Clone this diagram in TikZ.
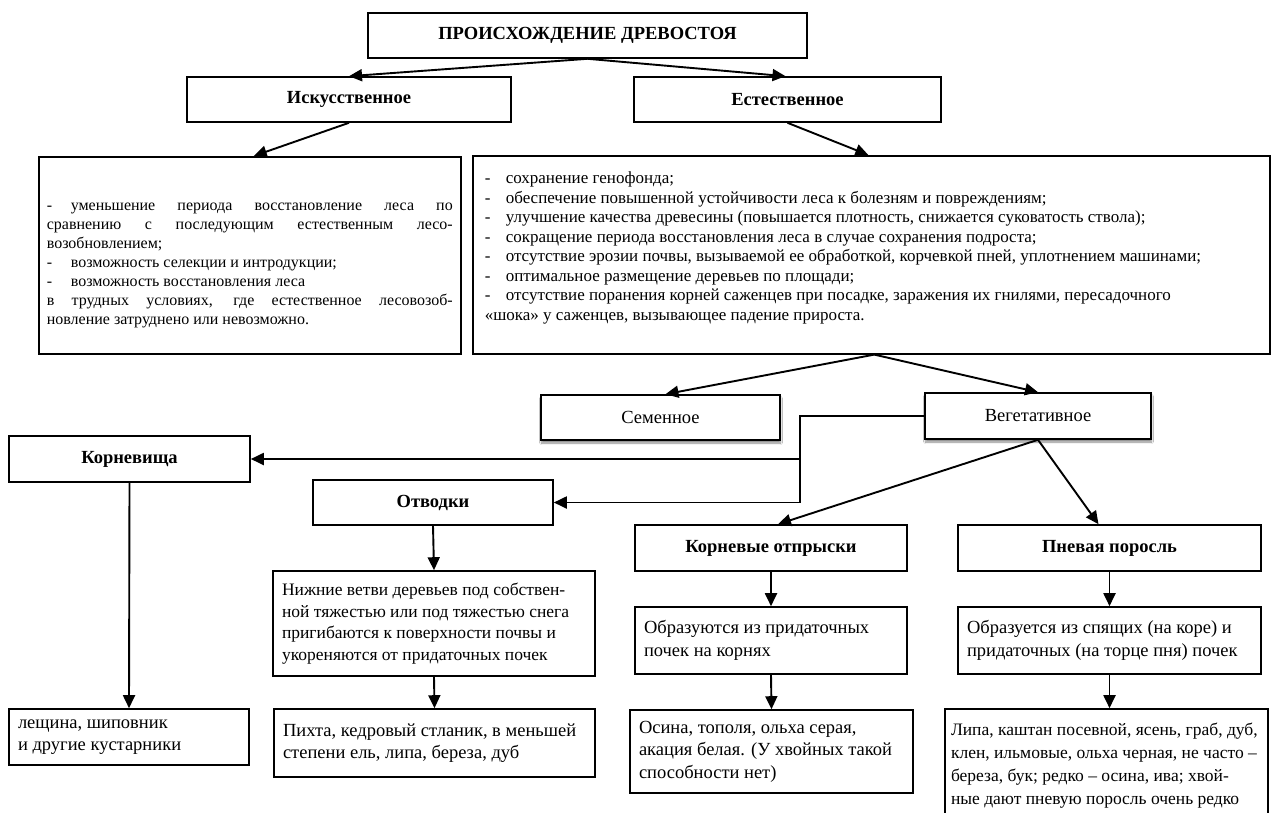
\documentclass[tikz,border=0pt]{standalone}
\usepackage{fontspec}
\setmainfont{Liberation Serif}
\usetikzlibrary{arrows.meta,shadows,shadows.blur}

\tikzset{
  box/.style={draw,line width=1.6pt,fill=white,inner sep=0pt,
    drop shadow={shadow xshift=1.4pt,shadow yshift=-1.4pt,fill=black!45,opacity=1}},
  headbox/.style={box,font=\fontsize{18.5}{22}\selectfont\bfseries},
  softbox/.style={draw,line width=1.6pt,fill=white,inner sep=0pt,
    blur shadow={shadow xshift=0.5pt,shadow yshift=-3pt,shadow blur steps=6,shadow opacity=45},
    font=\fontsize{18.5}{22}\selectfont},
  txtbox/.style={box,align=left,font=\fontsize{18.5}{22.5}\selectfont},
  arr/.style={-{Triangle[length=13pt,width=12pt]},line width=1.9pt},
  link/.style={line width=1.9pt}
}
% dash item and justified line
\newcommand\dashitem[2][24pt]{\makebox[#1][l]{-}#2}
\newcommand\fullline[1]{\makebox[\linewidth][s]{#1}}

\begin{document}
\begin{tikzpicture}[x=1pt,y=-1pt]
  \clip (0,0) rectangle (1271,812);
  \fill[white] (0,0) rectangle (1271,812);

  % top level
  \node[headbox,minimum width=439pt,minimum height=45pt] (origin) at (587.5,35.5)
    {ПРОИСХОЖДЕНИЕ ДРЕВОСТОЯ};
  \node[headbox,minimum width=324pt,minimum height=45pt] (artif) at (349,99.5) {Искусственное};
  \node[headbox,minimum width=307pt,minimum height=45pt] (natur) at (787.5,99.5) {Естественное};

  % advantages
  \node[box,anchor=north west,inner xsep=8pt] (artifpro) at (38,156)
    {\parbox[c][197pt][t]{406pt}{\fontsize{16}{19}\selectfont\vspace*{46pt}
      \fullline{\dashitem{уменьшение периода восстановление леса по}}\\
      \fullline{сравнению с последующим естественным лесо-}\\
      возобновлением;\\
      \dashitem{возможность селекции и интродукции;}\\
      \dashitem{возможность восстановления леса}\\
      \fullline{в трудных условиях, где естественное лесовозоб-}\\
      новление затруднено или невозможно.\par}};
  \node[box,anchor=north west,inner xsep=12pt] (naturpro) at (472,155)
    {\parbox[c][198pt][t]{773pt}{\fontsize{17}{19.5}\selectfont\vspace*{16pt}
      \dashitem[21pt]{сохранение генофонда;}\\
      \dashitem[21pt]{обеспечение повышенной устойчивости леса к болезням и повреждениям;}\\
      \dashitem[21pt]{улучшение качества древесины (повышается плотность, снижается суковатость ствола);}\\
      \dashitem[21pt]{сокращение периода восстановления леса в случае сохранения подроста;}\\
      \dashitem[21pt]{отсутствие эрозии почвы, вызываемой ее обработкой, корчевкой пней, уплотнением машинами;}\\
      \dashitem[21pt]{оптимальное размещение деревьев по площади;}\\
      \dashitem[21pt]{отсутствие поранения корней саженцев при посадке, заражения их гнилями, пересадочного}\\
      «шока» у саженцев, вызывающее падение прироста.\par}};

  % natural ways
  \node[softbox,minimum width=239pt,minimum height=45pt] (seed) at (660.5,417.5) {Семенное};
  \node[softbox,minimum width=226pt,minimum height=46pt] (veget) at (1038,416) {Вегетативное};

  % vegetative kinds
  \node[headbox,minimum width=241pt,minimum height=46pt] (rhizome) at (129.5,459) {Корневища};
  \node[headbox,minimum width=240pt,minimum height=45pt] (layer) at (433,502.5) {Отводки};
  \node[headbox,minimum width=272pt,minimum height=46pt] (sucker) at (771,548) {Корневые отпрыски};
  \node[headbox,minimum width=303pt,minimum height=46pt] (coppice) at (1109.5,548) {Пневая поросль};

  % descriptions
  \node[txtbox,minimum width=322pt,minimum height=105pt] (layerdesc) at (434,623.5)
    {\parbox{304pt}{\fontsize{17.5}{21.5}\selectfont Нижние ветви деревьев под собствен-\\ной тяжестью или под тяжестью снега\\
      пригибаются к поверхности почвы и\\укореняются от придаточных почек}};
  \node[txtbox,minimum width=272pt,minimum height=67pt] (suckerdesc) at (771,640.5)
    {\parbox{254pt}{Образуются из придаточных\\почек на корнях}};
  \node[txtbox,minimum width=303pt,minimum height=67pt] (coppicedesc) at (1109.5,640.5)
    {\parbox{285pt}{Образуется из спящих (на коре) и\\придаточных (на торце пня) почек}};

  % species
  \node[txtbox,minimum width=240pt,minimum height=56pt] (rhizomesp) at (129,737)
    {\parbox{222pt}{лещина, шиповник\\и другие кустарники}};
  \node[txtbox,minimum width=321pt,minimum height=68pt] (layersp) at (434.5,743)
    {\parbox{303pt}{Пихта, кедровый стланик, в меньшей\\степени ель, липа, береза, дуб}};
  \node[txtbox,minimum width=283pt,minimum height=83pt] (suckersp) at (771.5,751.5)
    {\parbox{265pt}{Осина, тополя, ольха серая,\\акация белая. (У хвойных такой\\способности нет)}};
  \node[txtbox,minimum width=323pt,minimum height=113pt] (coppicesp) at (1106.5,765.5)
    {\parbox{311pt}{\fontsize{17.5}{23}\selectfont Липа, каштан посевной, ясень, граб, дуб,\\клен, ильмовые, ольха черная, не часто --\\
      береза, бук; редко -- осина, ива; хвой-\\ные дают пневую поросль очень редко}};

  % connectors
  \draw[arr] (origin.south) -- (artif.north);
  \draw[arr] (origin.south) -- ([xshift=-2pt]natur.north);
  \draw[arr] (artif.south) -- ([xshift=4pt]artifpro.north);
  \draw[arr] (natur.south) -- ([xshift=-3pt]naturpro.north);
  \draw[arr] ([xshift=3pt]naturpro.south) -- ([xshift=5pt]seed.north);
  \draw[arr] ([xshift=3pt]naturpro.south) -- (veget.north);
  \coordinate (bend) at (800,416);
  \draw[link] (veget.west) -- (bend) -- (bend |- layer.east);
  \draw[arr] (bend |- rhizome.east) -- (rhizome.east);
  \draw[arr] (bend |- layer.east) -- (layer.east);
  \draw[arr] (veget.south) -- ([xshift=7pt]sucker.north);
  \draw[arr] (veget.south) -- ([xshift=-11pt]coppice.north);
  \draw[arr] (rhizome.south) -- (rhizomesp.north);
  \draw[arr] (layer.south) -- (layerdesc.north);
  \draw[arr] (layerdesc.south) -- (layersp.north);
  \draw[arr] (sucker.south) -- (suckerdesc.north);
  \draw[arr] (suckerdesc.south) -- (suckersp.north);
  \draw[arr] (coppice.south) -- (coppicedesc.north);
  \draw[arr] (coppicedesc.south) -- ([xshift=3pt]coppicesp.north);
\end{tikzpicture}
\end{document}
